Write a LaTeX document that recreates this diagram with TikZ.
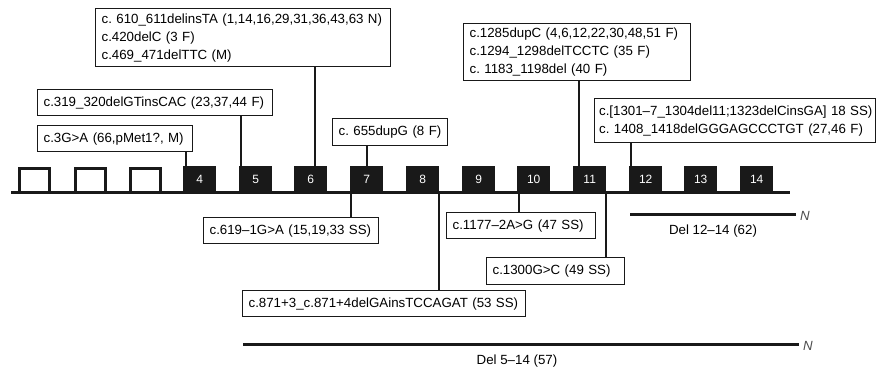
\documentclass[tikz,border=0pt]{standalone}
\usepackage{fontspec}
\setmainfont{Liberation Sans}
\frenchspacing
\begin{document}
\begin{tikzpicture}[x=1pt,y=-1pt,
  every node/.style={font=\fontsize{13.3}{18}\selectfont\frenchspacing},
  mbox/.style={draw=black!90, line width=1.2pt, fill=white, anchor=north west, inner xsep=6pt, inner ysep=0pt, align=left},
  conn/.style={line width=1.6pt, draw=black!90},
  exonb/.style={fill=black!90, draw=none, minimum width=33pt, minimum height=27pt, anchor=north west, inner sep=0pt, text=white, font=\fontsize{12}{14}\selectfont},
  exonw/.style={fill=white, draw=black!90, line width=3pt, minimum width=30pt, minimum height=24pt, anchor=north west, inner sep=0pt},
  thick line/.style={line width=3pt, draw=black!90},
  brk/.style={text=black!70, font=\fontsize{13.3}{16}\selectfont\itshape, inner sep=0pt, anchor=west}
]
\useasboundingbox (0,0) rectangle (876,371);

% baseline
\coordinate (bl) at (11,193);
\coordinate (br) at (790,193);
\draw[thick line] (bl) -- (br);

% exons
\node[exonw] (e1) at (17.5,167.5) {};
\node[exonw] (e2) at (73.5,167.5) {};
\node[exonw] (e3) at (128.5,167.5) {};
\node[exonb] (e4) at (183,166) {4};
\node[exonb] (e5) at (239,166) {5};
\node[exonb] (e6) at (294,166) {6};
\node[exonb] (e7) at (350,166) {7};
\node[exonb] (e8) at (406,166) {8};
\node[exonb] (e9) at (462,166) {9};
\node[exonb] (e10) at (517,166) {10};
\node[exonb] (e11) at (573,166) {11};
\node[exonb] (e12) at (629,166) {12};
\node[exonb] (e13) at (684,166) {13};
\node[exonb] (e14) at (740,166) {14};

% boxes above
\node[mbox, minimum width=295pt, minimum height=58pt, text width=283pt] (A) at (95,8)
  {c. 610\_611delinsTA (1,14,16,29,31,36,43,63 N)\\c.420delC (3 F)\\c.469\_471delTTC (M)};
\node[mbox, minimum width=235pt, minimum height=26pt, text width=223pt] (B) at (37,89)
  {c.319\_320delGTinsCAC (23,37,44 F)};
\node[mbox, minimum width=155pt, minimum height=26pt, text width=143pt] (C) at (37,125)
  {c.3G>A (66,pMet1?, M)};
\node[mbox, minimum width=115pt, minimum height=27pt, text width=103pt] (D) at (332,118)
  {\mbox{c. 655dupG (8 F)}};
\node[mbox, minimum width=227pt, minimum height=57pt, text width=215pt] (E) at (463,23)
  {c.1285dupC (4,6,12,22,30,48,51 F)\\c.1294\_1298delTCCTC (35 F)\\c. 1183\_1198del (40 F)};
\node[mbox, minimum width=281pt, minimum height=44pt, text width=272pt, inner xsep=4.5pt] (F) at (594,98)
  {\mbox{c.[1301–7\_1304del11;1323delCinsGA] 18 SS)}\\c. 1408\_1418delGGGAGCCCTGT (27,46 F)};

% boxes below
\node[mbox, minimum width=175pt, minimum height=26pt, text width=163pt] (G) at (203,217)
  {c.619–1G>A (15,19,33 SS)};
\node[mbox, minimum width=283pt, minimum height=26pt, text width=271pt] (H) at (242,290)
  {c.871+3\_c.871+4delGAinsTCCAGAT (53 SS)};
\node[mbox, minimum width=149pt, minimum height=26pt, text width=137pt] (I) at (446,212)
  {c.1177–2A>G (47 SS)};
\node[mbox, minimum width=138pt, minimum height=27pt, text width=126pt] (J) at (486,257)
  {c.1300G>C (49 SS)};

% connectors above
\draw[conn] ([xshift=3pt]e4.north west) -- ([xshift=3pt]e4.north west |- C.south);
\draw[conn] ([xshift=2pt]e5.north west) -- ([xshift=2pt]e5.north west |- B.south);
\draw[conn] ([xshift=4pt]e6.north) -- ([xshift=4pt]e6.north |- A.south);
\draw[conn] (e7.north) -- (e7.north |- D.south);
\draw[conn] ([xshift=6pt]e11.north west) -- ([xshift=6pt]e11.north west |- E.south);
\draw[conn] ([xshift=2pt]e12.north west) -- ([xshift=2pt]e12.north west |- F.south);

% connectors below
\draw[conn] ([xshift=1pt]e7.south west) -- ([xshift=1pt]e7.south west |- G.north);
\draw[conn] ([xshift=-0.5pt]e8.south east) -- ([xshift=-0.5pt]e8.south east |- H.north);
\draw[conn] ([xshift=2pt]e10.south west) -- ([xshift=2pt]e10.south west |- I.north);
\draw[conn] ([xshift=-0.5pt]e11.south east) -- ([xshift=-0.5pt]e11.south east |- J.north);

% deletions
\coordinate (d1a) at (630,215);
\coordinate (d1b) at (796,215);
\draw[thick line] (d1a) -- (d1b);
\node[brk] (n1) at (800,216) {N};
\node (t1) at (713,231) {Del 12–14 (62)};

\coordinate (d2a) at (243,345);
\coordinate (d2b) at (799,345);
\draw[thick line] (d2a) -- (d2b);
\node[brk] (n2) at (803,346) {N};
\node (t2) at (517,361) {Del 5–14 (57)};
\end{tikzpicture}
\end{document}
